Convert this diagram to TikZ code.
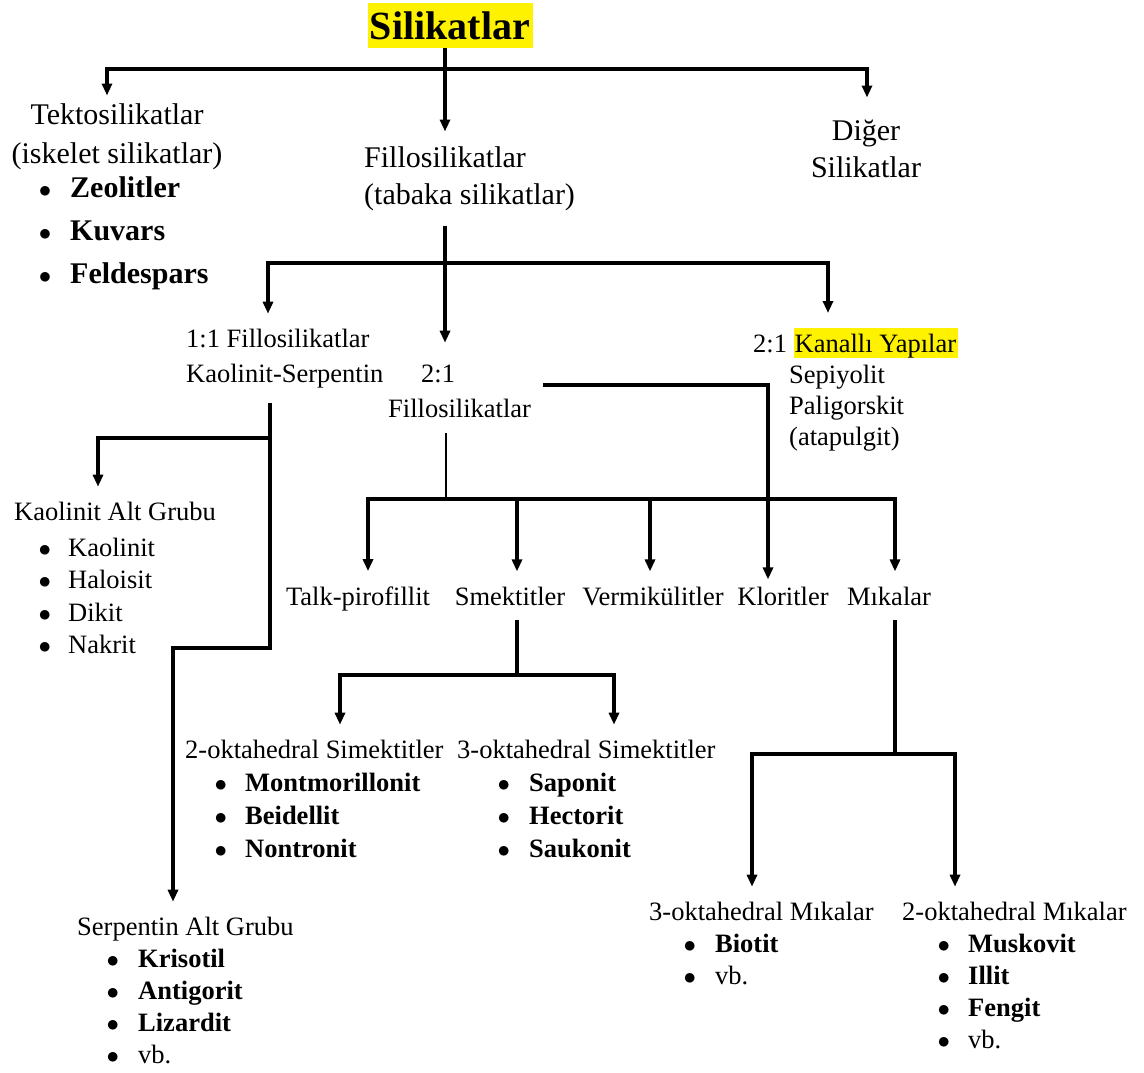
\documentclass[tikz,border=0pt]{standalone}
\usepackage{fontspec}
\setmainfont{Liberation Serif}
\usepackage{xcolor}
\usetikzlibrary{arrows.meta,positioning,calc}

\newcommand{\hlt}[1]{{\setlength{\fboxsep}{0pt}\colorbox{yellow}{\rule[-6pt]{0pt}{30pt}\hspace{1pt}#1\hspace{2pt}}}}
\newcommand{\bul}[2]{\makebox[#1][l]{\hspace*{-2pt}$\bullet$}#2}

\begin{document}
\begin{tikzpicture}[x=1pt,y=-1pt,>={Triangle[length=12pt,width=10pt]},
  big/.style={inner xsep=0pt,inner ysep=15pt,font=\fontsize{30}{37}\selectfont},
  txt/.style={inner xsep=0pt,inner ysep=15pt,font=\fontsize{26.5}{32.5}\selectfont},
  con/.style={->,line width=3.5pt},
  thinln/.style={line width=1.2pt}]
  \useasboundingbox (0,0) rectangle (1144,1072);

  % top
  \node[fill=yellow,inner sep=0pt,minimum width=165pt,minimum height=45pt,
        font=\fontsize{40}{48}\selectfont\bfseries] (sil) at (450,25.5) {Silikatlar};

  % level 1
  \node[big,align=center,anchor=north,inner ysep=8pt,font=\fontsize{30}{39}\selectfont]
        (tek) at (117,95.5) {Tektosilikatlar\\(iskelet silikatlar)};
  \node[big,align=left,anchor=north west,font=\fontsize{30}{43}\selectfont\bfseries]
        (tekl) at (40.7,161.7)
        {\bul{29.3pt}{Zeolitler}\\\bul{29.3pt}{Kuvars}\\\bul{29.3pt}{Feldespars}};
  \node[big,align=left,anchor=north west]
        (fil) at (364,131.5) {Fillosilikatlar\\(tabaka silikatlar)};
  \node[big,align=center,anchor=north,inner ysep=22pt]
        (dig) at (866,97.5) {Diğer\\Silikatlar};

  % level 2
  \node[txt,align=left,anchor=north west,font=\fontsize{26.5}{35}\selectfont]
        (kse) at (186,313.7) {1:1 Fillosilikatlar\\Kaolinit-Serpentin};
  \node[txt,align=left,anchor=north west,font=\fontsize{26.5}{35}\selectfont]
        (f21) at (388,349.7) {\hspace*{33pt}2:1\\Fillosilikatlar};
  \node[txt,align=left,anchor=north west,font=\fontsize{26.5}{31}\selectfont]
        (kan) at (753,313)
        {2:1 \hlt{Kanallı Yapılar}\\\hspace*{36pt}Sepiyolit\\
         \hspace*{36pt}Paligorskit\\\hspace*{36pt}(atapulgit)};

  % 1:1 groups
  \node[txt,align=left,anchor=north west] (kalt) at (14,486.7)
        {Kaolinit Alt Grubu\\[3.5pt]
         \hspace*{26.4pt}\bul{27.6pt}{Kaolinit}\\
         \hspace*{26.4pt}\bul{27.6pt}{Haloisit}\\
         \hspace*{26.4pt}\bul{27.6pt}{Dikit}\\
         \hspace*{26.4pt}\bul{27.6pt}{Nakrit}};
  \node[txt,align=left,anchor=north west,font=\fontsize{26.5}{32}\selectfont]
        (serp) at (77,901.7)
        {Serpentin Alt Grubu\\
         \hspace*{31.4pt}\bul{29.6pt}{\textbf{Krisotil}}\\
         \hspace*{31.4pt}\bul{29.6pt}{\textbf{Antigorit}}\\
         \hspace*{31.4pt}\bul{29.6pt}{\textbf{Lizardit}}\\
         \hspace*{31.4pt}\bul{29.6pt}{vb.}};

  % level 3
  \node[txt,anchor=base] (talk) at (358,605) {Talk-pirofillit};
  \node[txt,anchor=base] (sme) at (510,605) {Smektitler};
  \node[txt,anchor=base] (ver) at (653,605) {Vermikülitler};
  \node[txt,anchor=base] (klo) at (783,605) {Kloritler};
  \node[txt,anchor=base] (mik) at (889,605) {Mıkalar};

  % level 4
  \node[txt,align=left,anchor=north west,font=\fontsize{26.5}{33}\selectfont]
        (s2o) at (185,724.7)
        {2-oktahedral Simektitler\\
         \hspace*{31.4pt}\bul{28.6pt}{\textbf{Montmorillonit}}\\
         \hspace*{31.4pt}\bul{28.6pt}{\textbf{Beidellit}}\\
         \hspace*{31.4pt}\bul{28.6pt}{\textbf{Nontronit}}};
  \node[txt,align=left,anchor=north west,font=\fontsize{26.5}{33}\selectfont]
        (s3o) at (457,724.7)
        {3-oktahedral Simektitler\\
         \hspace*{42.4pt}\bul{29.6pt}{\textbf{Saponit}}\\
         \hspace*{42.4pt}\bul{29.6pt}{\textbf{Hectorit}}\\
         \hspace*{42.4pt}\bul{29.6pt}{\textbf{Saukonit}}};
  \node[txt,align=left,anchor=north west,font=\fontsize{26.5}{32}\selectfont]
        (mk3) at (649,886.7)
        {3-oktahedral Mıkalar\\
         \hspace*{36.4pt}\bul{29.6pt}{\textbf{Biotit}}\\
         \hspace*{36.4pt}\bul{29.6pt}{vb.}};
  \node[txt,align=left,anchor=north west,font=\fontsize{26.5}{32}\selectfont]
        (mk2) at (902,886.7)
        {2-oktahedral Mıkalar\\
         \hspace*{37.4pt}\bul{28.6pt}{\textbf{Muskovit}}\\
         \hspace*{37.4pt}\bul{28.6pt}{\textbf{Illit}}\\
         \hspace*{37.4pt}\bul{28.6pt}{\textbf{Fengit}}\\
         \hspace*{37.4pt}\bul{28.6pt}{vb.}};

  % connectors
  \coordinate (c1) at (445,69);
  \coordinate (c1a) at (107,69);
  \coordinate (c1b) at (867,69);
  \draw[con] (sil.south -| c1) -- (fil.north -| c1);
  \draw[con] (c1) -| (tek.north -| c1a);
  \draw[con] (c1) -| (dig.north -| c1b);

  \coordinate (c2) at (445,263);
  \coordinate (c2a) at (268,263);
  \coordinate (c2b) at (828,263);
  \draw[con] (fil.south -| c2) -- ([yshift=7pt]f21.north -| c2);
  \draw[con] (c2) -| (kse.north -| c2a);
  \draw[con] (c2) -| (kan.north -| c2b);

  \coordinate (c3) at (270,438);
  \coordinate (c3a) at (98,438);
  \coordinate (c3b) at (270,648);
  \coordinate (c3c) at (173,648);
  \draw[con] (kse.south -| c3) -- (c3b) -- (c3c) -- (serp.north -| c3c);
  \draw[con] (c3) -- (c3a) -- (kalt.north -| c3a);

  \coordinate (c4) at (446,499);
  \coordinate (c4a) at (368,499);
  \coordinate (c4b) at (517,499);
  \coordinate (c4c) at (650,499);
  \coordinate (c4d) at (895,499);
  \draw[thinln] (f21.south -| c4) -- (c4);
  \draw[con] (c4) -| (talk.north -| c4a);
  \draw[con] (c4) -| (sme.north -| c4b);
  \draw[con] (c4) -| (ver.north -| c4c);
  \draw[con] (c4) -| (mik.north -| c4d);

  \coordinate (c5) at (768,385);
  \draw[con] ([xshift=12pt]f21.east |- c5) -- (c5) -- ([yshift=-8pt]klo.north -| c5);

  \coordinate (c6) at (517,675);
  \coordinate (c6a) at (340,675);
  \coordinate (c6b) at (614,675);
  \draw[con] (sme.south -| c6) -- (c6) -| (s2o.north -| c6a);
  \draw[con] (sme.south -| c6) -- (c6) -| (s3o.north -| c6b);

  \coordinate (c7) at (895,754);
  \coordinate (c7a) at (752,754);
  \coordinate (c7b) at (955,754);
  \draw[con] (mik.south -| c7) -- (c7) -| (mk3.north -| c7a);
  \draw[con] (mik.south -| c7) -- (c7) -| (mk2.north -| c7b);
\end{tikzpicture}
\end{document}
